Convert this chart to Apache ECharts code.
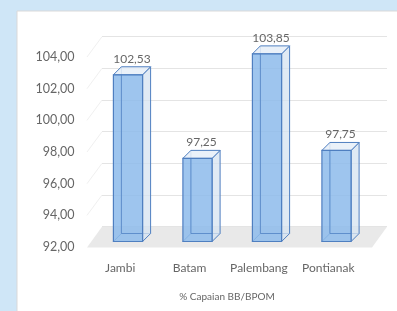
<!DOCTYPE html>
<html><head><meta charset="utf-8">
<script src="https://cdn.jsdelivr.net/npm/echarts@6/dist/echarts.min.js"></script>
<style>html,body{margin:0;padding:0;background:#cfe6f7}#c{width:397px;height:311px}</style>
</head><body><div id="c"></div>
<script>
const categories = ['Jambi', 'Batam', 'Palembang', 'Pontianak'];
const values = [102.53, 97.25, 103.85, 97.75];
const yTicks = [92, 94, 96, 98, 100, 102, 104];
const axisTitle = '% Capaian BB/BPOM';

const Y_MIN = yTicks[0], Y_MAX = yTicks[yTicks.length - 1], Y_STEP = yTicks[1] - yTicks[0];
const FONT = 'Lato, "Open Sans", sans-serif';
const fmt = v => v.toFixed(2).replace('.', ',');
const D = 8;

function renderBar(params, api) {
  const idx = api.value(0), val = api.value(1);
  const t = api.coord([idx, val]);
  const b = api.coord([idx, Y_MIN]);
  const bw = api.size([1, 0])[0] * 0.42;
  const x0 = t[0] - bw / 2, x1 = x0 + bw, yt = t[1], yb = b[1];
  const edge = '#4f7fc0';
  return {
    type: 'group',
    children: [
      { type: 'polyline', shape: { points: [[x0 + D, yt - D], [x0 + D, yb - D], [x1 + D, yb - D]] }, style: { stroke: edge, lineWidth: 1, fill: null, opacity: 0.8 } },
      { type: 'line', shape: { x1: x0, y1: yb, x2: x0 + D, y2: yb - D }, style: { stroke: edge, lineWidth: 1 } },
      { type: 'polygon', shape: { points: [[x1, yt], [x1 + D, yt - D], [x1 + D, yb - D], [x1, yb]] }, style: { fill: 'rgba(214,227,240,0.75)', stroke: edge, lineWidth: 1 } },
      { type: 'polygon', shape: { points: [[x0, yt], [x0 + D, yt - D], [x1 + D, yt - D], [x1, yt]] }, style: { fill: 'rgba(230,239,248,0.85)', stroke: edge, lineWidth: 1 } },
      { type: 'rect', shape: { x: x0, y: yt, width: bw, height: yb - yt }, style: { fill: 'rgba(141,187,235,0.85)', stroke: edge, lineWidth: 1.2 } },
      { type: 'polyline', shape: { points: [[x0 + D, yt], [x0 + D, yb - D], [x1, yb - D]] }, style: { stroke: 'rgba(79,127,192,0.7)', lineWidth: 1, fill: null } },
      { type: 'text', style: { text: fmt(val), x: (x0 + x1 + D) / 2, y: yt - D - 8, align: 'center', verticalAlign: 'middle', fill: '#666666', font: '12px ' + FONT } }
    ]
  };
}

const chart = echarts.init(document.getElementById('c'), null, { renderer: 'canvas' });

const baseGraphics = [
  { id: 'panel', type: 'rect', z: -10, shape: { x: 17, y: 11, width: 400, height: 320 }, style: { fill: '#ffffff', stroke: '#d9d9d9', lineWidth: 1 }, silent: true },
  { id: 'floor', type: 'polygon', z: -5, shape: { points: [[87, 247.5], [372, 247.5], [387, 226.7], [102, 226.7]] }, style: { fill: '#e9e9e9' }, silent: true },
  { id: 'title', type: 'text', z: 5, style: { text: axisTitle, x: 227, y: 297, align: 'center', verticalAlign: 'middle', fill: '#666666', font: '10px ' + FONT } }
];

chart.setOption({
  backgroundColor: '#cfe6f7',
  animation: false,
  grid: [
    { left: 93.25, right: 25.75, top: 51.5, bottom: 69.5 },
    { left: 102, right: 10, top: 36.7, bottom: 84.3 },
    { left: 85.5, right: 34, top: 57, bottom: 64 }
  ],
  xAxis: [
    { gridIndex: 0, type: 'category', data: categories, show: false },
    { gridIndex: 1, type: 'category', data: categories, show: false },
    { gridIndex: 2, type: 'category', data: categories, axisLine: { show: false }, axisTick: { show: false },
      axisLabel: { interval: 0, margin: 15, color: '#666666', fontFamily: FONT, fontSize: 12 } }
  ],
  yAxis: [
    { gridIndex: 0, type: 'value', min: Y_MIN, max: Y_MAX, interval: Y_STEP, show: false },
    { gridIndex: 1, type: 'value', min: Y_MIN, max: Y_MAX, interval: Y_STEP,
      axisLabel: { show: false }, axisLine: { show: false }, axisTick: { show: false },
      splitLine: { show: true, lineStyle: { color: '#e4e4e4', width: 1 } } },
    { gridIndex: 2, type: 'value', min: Y_MIN, max: Y_MAX, interval: Y_STEP,
      axisLine: { show: false }, axisTick: { show: false }, splitLine: { show: false },
      axisLabel: { margin: 11, color: '#666666', fontFamily: FONT, fontSize: 12.5, formatter: v => fmt(v) } }
  ],
  graphic: { elements: baseGraphics },
  series: [
    { type: 'custom', xAxisIndex: 0, yAxisIndex: 0, renderItem: renderBar, z: 5,
      data: values.map((v, i) => [i, v]), encode: { x: 0, y: 1 } }
  ]
});

const lines = yTicks.slice(1).map((v, i) => {
  const f = chart.convertToPixel({ gridIndex: 2 }, [0, v]);
  const bk = chart.convertToPixel({ gridIndex: 1 }, [0, v]);
  return { id: 'side' + i, type: 'line', z: -4, silent: true, shape: { x1: 87, y1: f[1], x2: 102, y2: bk[1] }, style: { stroke: '#f0f0f0', lineWidth: 1 } };
});
chart.setOption({ graphic: { elements: baseGraphics.concat(lines) } });
</script></body></html>
